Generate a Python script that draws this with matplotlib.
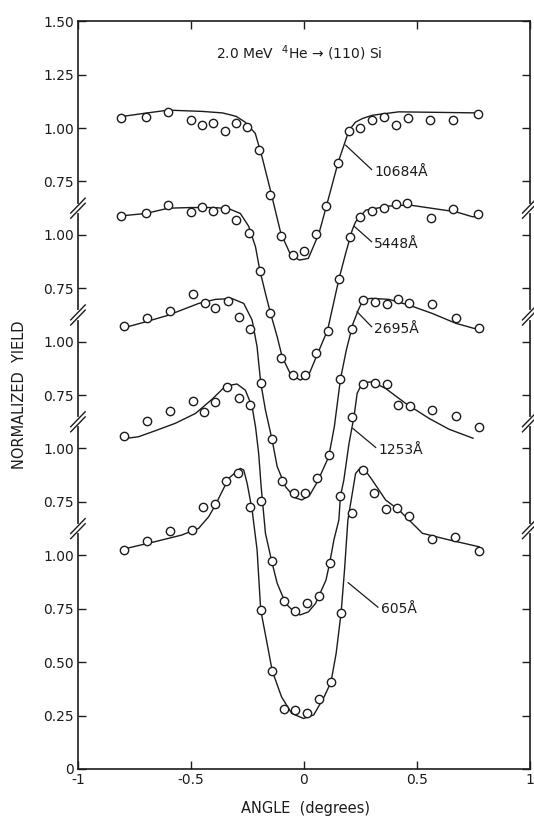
import matplotlib.pyplot as plt
from matplotlib.transforms import blended_transform_factory

# thicknesses, top to bottom
labels = ["10684Å", "5448Å", "2695Å", "1253Å", "605Å"]

# measured points: angle (degrees), normalized yield
x_10684 = [-0.81, -0.70, -0.60, -0.50, -0.45, -0.40, -0.35, -0.30, -0.25, -0.20, -0.15, -0.10, -0.05,
           0.00, 0.055, 0.10, 0.15, 0.20, 0.25, 0.30, 0.355, 0.41, 0.46, 0.56, 0.66, 0.77]
y_10684 = [1.045, 1.050, 1.076, 1.040, 1.014, 1.022, 0.987, 1.022, 1.006, 0.897, 0.685, 0.494, 0.408,
           0.425, 0.502, 0.635, 0.837, 0.987, 1.002, 1.037, 1.052, 1.014, 1.045, 1.040, 1.040, 1.065]

x_5448 = [-0.81, -0.70, -0.60, -0.50, -0.45, -0.40, -0.35, -0.30, -0.245, -0.195, -0.148, -0.10, -0.046,
          0.004, 0.055, 0.105, 0.155, 0.205, 0.25, 0.303, 0.356, 0.407, 0.456, 0.562, 0.662, 0.77]
y_5448 = [1.088, 1.103, 1.139, 1.108, 1.131, 1.113, 1.119, 1.072, 1.011, 0.830, 0.635, 0.425, 0.344,
          0.344, 0.448, 0.551, 0.792, 0.991, 1.083, 1.110, 1.124, 1.145, 1.151, 1.078, 1.122, 1.100]

x_2695 = [-0.795, -0.695, -0.594, -0.492, -0.439, -0.392, -0.337, -0.288, -0.239, -0.191, -0.141, -0.096, -0.045,
          0.004, 0.060, 0.110, 0.162, 0.214, 0.264, 0.314, 0.366, 0.416, 0.467, 0.569, 0.673, 0.775]
y_2695 = [1.073, 1.112, 1.145, 1.223, 1.182, 1.160, 1.191, 1.117, 1.058, 0.808, 0.543, 0.349, 0.290,
          0.290, 0.360, 0.469, 0.826, 1.058, 1.193, 1.187, 1.176, 1.198, 1.180, 1.176, 1.109, 1.062]

x_1253 = [-0.795, -0.695, -0.594, -0.492, -0.443, -0.392, -0.340, -0.288, -0.239, -0.191, -0.143, -0.089, -0.039,
          0.014, 0.067, 0.114, 0.162, 0.214, 0.263, 0.314, 0.366, 0.418, 0.468, 0.569, 0.673, 0.774]
y_1253 = [1.058, 1.128, 1.177, 1.224, 1.172, 1.219, 1.286, 1.235, 1.203, 0.754, 0.475, 0.288, 0.241,
          0.275, 0.310, 0.462, 0.777, 1.149, 1.300, 1.305, 1.300, 1.203, 1.200, 1.180, 1.153, 1.102]

x_605 = [-0.795, -0.695, -0.594, -0.495, -0.445, -0.394, -0.345, -0.292, -0.240, -0.191, -0.140, -0.087, -0.039,
         0.014, 0.067, 0.120, 0.165, 0.214, 0.262, 0.310, 0.364, 0.414, 0.467, 0.568, 0.671, 0.775]
y_605 = [1.025, 1.067, 1.114, 1.120, 1.225, 1.240, 1.347, 1.387, 1.228, 0.744, 0.459, 0.281, 0.276,
         0.263, 0.328, 0.406, 0.731, 1.198, 1.399, 1.290, 1.215, 1.220, 1.184, 1.074, 1.084, 1.021]

# calculated curves
cx_10684 = [-0.80, -0.70, -0.60, -0.45, -0.36, -0.30, -0.26, -0.215, -0.185, -0.148, -0.102, -0.06, -0.02,
            0.02, 0.067, 0.10, 0.152, 0.20, 0.229, 0.26, 0.303, 0.42, 0.77]
cy_10684 = [1.055, 1.070, 1.084, 1.078, 1.071, 1.055, 1.028, 0.975, 0.865, 0.709, 0.508, 0.410, 0.382,
            0.390, 0.507, 0.635, 0.840, 0.990, 1.028, 1.045, 1.060, 1.076, 1.071]

cx_5448 = [-0.80, -0.70, -0.60, -0.50, -0.40, -0.333, -0.281, -0.244, -0.214, -0.195, -0.170, -0.148, -0.118,
           -0.096, -0.06, -0.016, 0.02, 0.055, 0.105, 0.155, 0.185, 0.214, 0.229, 0.274, 0.377, 0.466, 0.673,
           0.746, 0.77]
cy_5448 = [1.090, 1.100, 1.125, 1.128, 1.128, 1.123, 1.100, 1.040, 0.944, 0.835, 0.726, 0.635, 0.523,
           0.429, 0.350, 0.320, 0.340, 0.429, 0.554, 0.792, 0.913, 1.022, 1.061, 1.116, 1.135, 1.140, 1.108,
           1.085, 1.085]

cx_2695 = [-0.79, -0.70, -0.60, -0.466, -0.392, -0.318, -0.266, -0.229, -0.207, -0.191, -0.170, -0.141, -0.118,
           -0.081, -0.04, -0.009, 0.025, 0.060, 0.110, 0.135, 0.162, 0.188, 0.218, 0.241, 0.263, 0.30, 0.377,
           0.466, 0.569, 0.673, 0.754, 0.79]
cy_2695 = [1.067, 1.093, 1.124, 1.179, 1.198, 1.202, 1.179, 1.101, 0.976, 0.808, 0.680, 0.543, 0.415,
           0.321, 0.270, 0.259, 0.280, 0.344, 0.461, 0.602, 0.824, 0.961, 1.086, 1.148, 1.198, 1.203, 1.198,
           1.171, 1.132, 1.086, 1.062, 1.060]

cx_1253 = [-0.79, -0.732, -0.658, -0.569, -0.480, -0.407, -0.347, -0.296, -0.259, -0.229, -0.214, -0.200, -0.189,
           -0.170, -0.143, -0.118, -0.081, -0.04, -0.016, 0.02, 0.052, 0.098, 0.114, 0.133, 0.155, 0.162, 0.177,
           0.200, 0.222, 0.236, 0.259, 0.303, 0.362, 0.451, 0.554, 0.643, 0.749]
cy_1253 = [1.047, 1.055, 1.083, 1.118, 1.164, 1.230, 1.292, 1.302, 1.273, 1.195, 1.102, 0.977, 0.821,
           0.603, 0.475, 0.369, 0.275, 0.232, 0.221, 0.235, 0.275, 0.384, 0.462, 0.572, 0.665, 0.777, 0.852,
           1.024, 1.149, 1.258, 1.308, 1.312, 1.281, 1.211, 1.141, 1.090, 1.048]

cx_605 = [-0.795, -0.658, -0.540, -0.466, -0.421, -0.392, -0.333, -0.281, -0.266, -0.251, -0.229, -0.207, -0.191,
          -0.165, -0.140, -0.099, -0.054, -0.001, 0.044, 0.090, 0.120, 0.143, 0.165, 0.180, 0.195, 0.229, 0.251,
          0.266, 0.303, 0.362, 0.421, 0.525, 0.643, 0.776]
cy_605 = [1.030, 1.064, 1.095, 1.126, 1.181, 1.235, 1.360, 1.407, 1.399, 1.337, 1.212, 1.025, 0.744,
          0.600, 0.459, 0.338, 0.260, 0.236, 0.253, 0.338, 0.406, 0.541, 0.731, 0.931, 1.165, 1.383, 1.411,
          1.406, 1.352, 1.259, 1.212, 1.103, 1.072, 1.040]

points_x = [x_10684, x_5448, x_2695, x_1253, x_605]
points_y = [y_10684, y_5448, y_2695, y_1253, y_605]
curve_x = [cx_10684, cx_5448, cx_2695, cx_1253, cx_605]
curve_y = [cy_10684, cy_5448, cy_2695, cy_1253, cy_605]

# stacking: each curve raised by this amount on the broken axis
shift = [2.0, 1.5, 1.0, 0.5, 0.0]

ytick_pos = [0.25 * i for i in range(15)]
ytick_lab = ["0", "0.25", "0.50", "0.75", "1.00", "0.75", "1.00", "0.75", "1.00",
             "0.75", "1.00", "0.75", "1.00", "1.25", "1.50"]
breaks = [1.125, 1.625, 2.125, 2.625]

# label pointers: (x0, y0, x1, y1) in plot units, text placed at end
pointers = [(0.185, 2.920, 0.300, 2.806),
            (0.222, 2.541, 0.300, 2.468),
            (0.236, 2.140, 0.300, 2.070),
            (0.217, 1.594, 0.318, 1.505),
            (0.196, 0.872, 0.328, 0.757)]

ink = "#1c1c1c"

fig = plt.figure(figsize=(5.34, 8.18), dpi=100)
ax = fig.add_axes([0.146, 0.060, 0.846, 0.914])

for cx, cy, px, py, s in zip(curve_x, curve_y, points_x, points_y, shift):
    ax.plot(cx, [v + s for v in cy], color=ink, lw=1.0, zorder=2)
    ax.plot(px, [v + s for v in py], 'o', ms=6, mfc='white', mec=ink, mew=1.0, zorder=3)

for lab, (x0, y0, x1, y1) in zip(labels, pointers):
    ax.plot([x0, x1], [y0, y1], color=ink, lw=0.9, zorder=2)
    ax.text(x1 + 0.012, y1 - 0.01, lab, fontsize=10, color=ink, ha='left', va='center')

ax.text(-0.02, 3.35, "2.0 MeV  $^4$He → (110) Si", fontsize=10, color=ink, ha='center', va='center')

ax.set_xlim(-1, 1)
ax.set_ylim(0, 3.5)
ax.set_xticks([-1, -0.5, 0, 0.5, 1])
ax.set_xticklabels(["-1", "-0.5", "0", "0.5", "1"])
ax.set_yticks(ytick_pos)
ax.set_yticklabels(ytick_lab)
ax.tick_params(direction='in', length=6, width=1.0, top=True, right=True,
               labelsize=10, labelcolor=ink, color=ink, pad=3)
for sp in ax.spines.values():
    sp.set_color(ink)
    sp.set_linewidth(1.2)

# axis break marks on both side spines
trans = blended_transform_factory(ax.transAxes, ax.transData)
for b in breaks:
    for xs in (0.0, 1.0):
        ax.plot([xs, xs], [b - 0.012, b + 0.012], color='white', lw=3, transform=trans,
                clip_on=False, zorder=4)
        for d in (-0.012, 0.012):
            ax.plot([xs - 0.016, xs + 0.016], [b + d - 0.035, b + d + 0.035], color=ink, lw=1.0,
                    transform=trans, clip_on=False, zorder=5)

fig.text(0.0365, 0.060 + 0.914 * 0.5, "NORMALIZED  YIELD", rotation=90, fontsize=10.5,
         color=ink, ha='center', va='center')
fig.text(0.146 + 0.846 * 0.503, 818 and (818 - 808) / 818, "ANGLE  (degrees)", fontsize=10.5,
         color=ink, ha='center', va='center')

fig.savefig("out.png", dpi=100)
